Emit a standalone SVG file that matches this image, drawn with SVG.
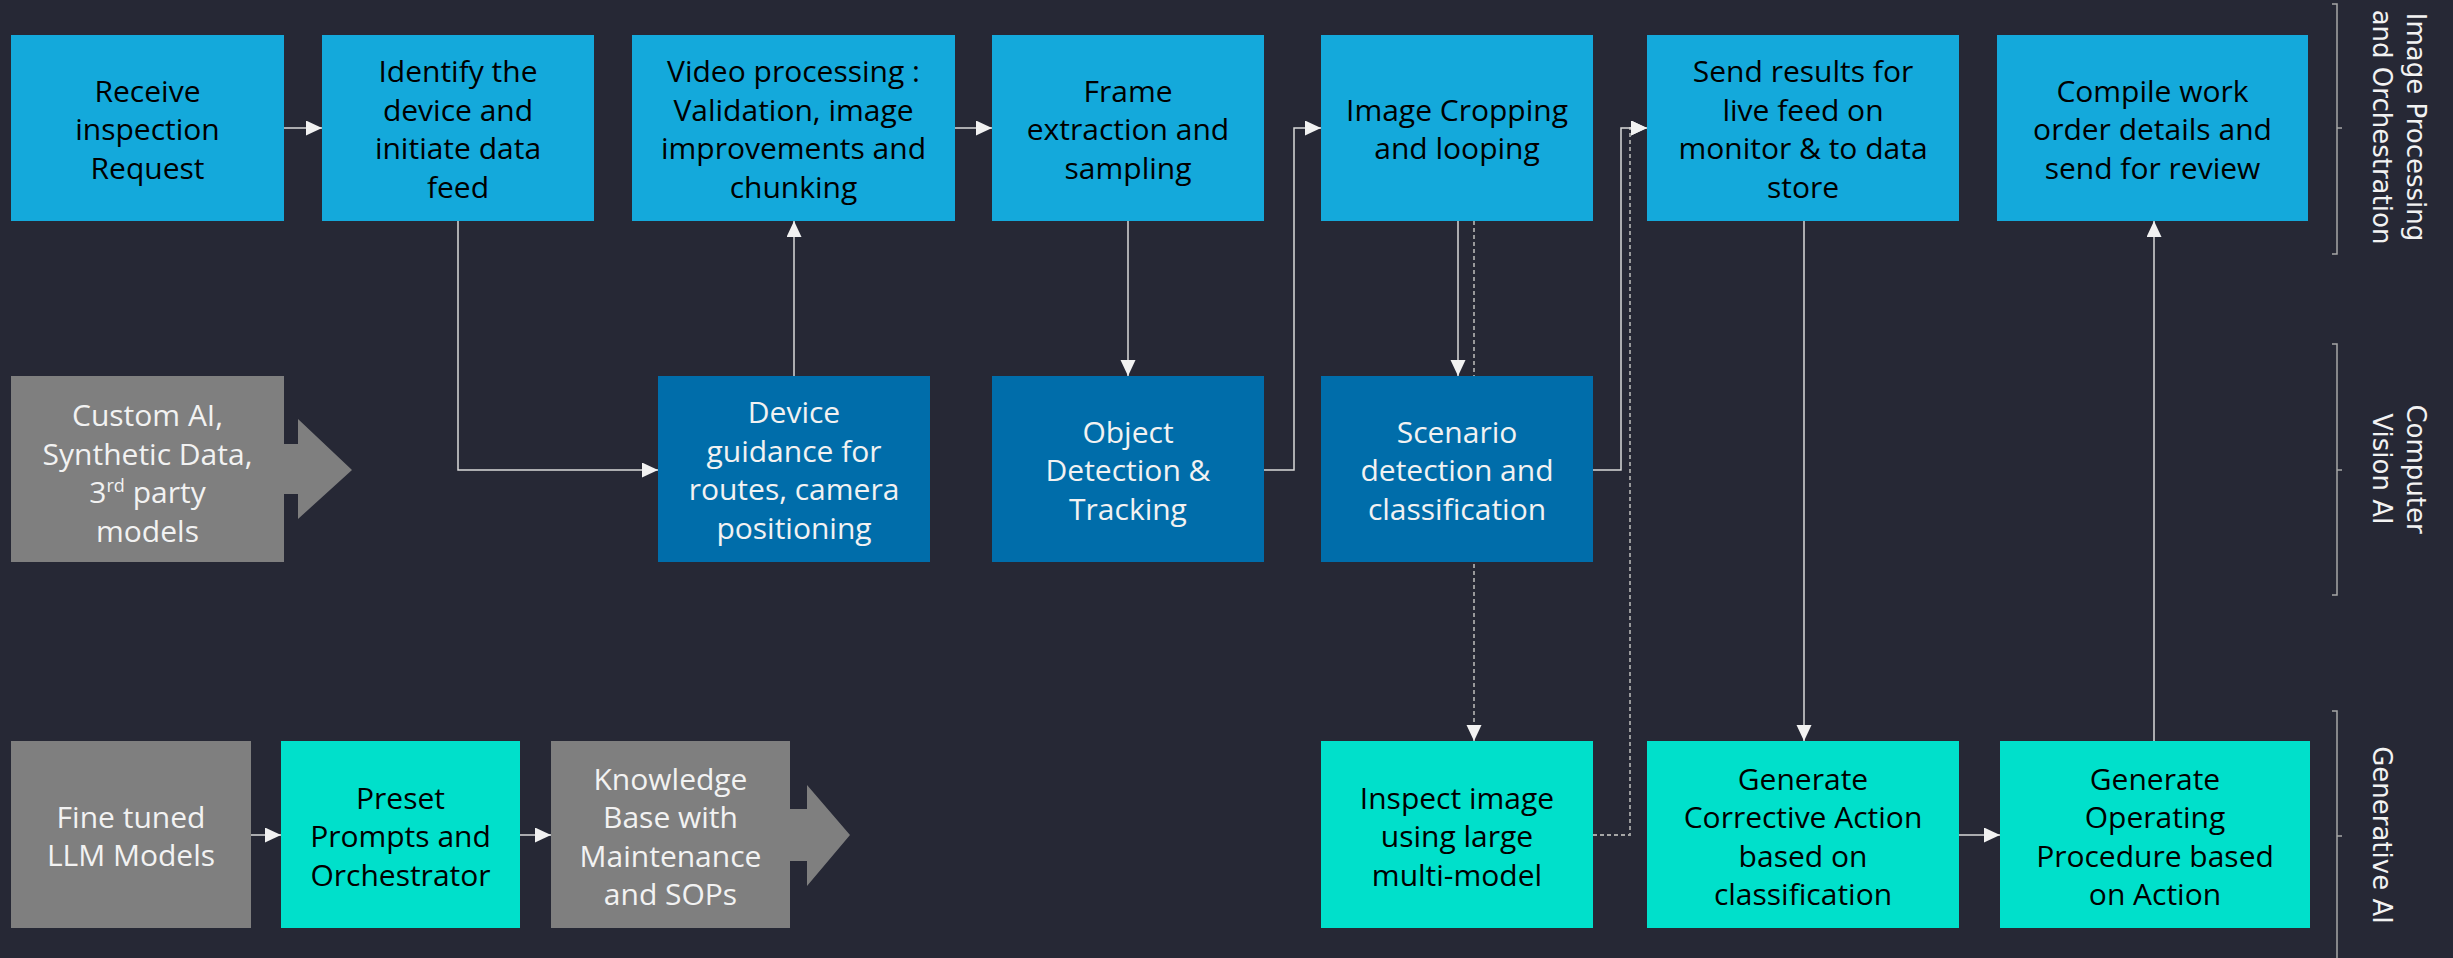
<svg xmlns="http://www.w3.org/2000/svg" width="2453" height="958" viewBox="0 0 2453 958">
<defs>
<style>
.bg{fill:#262835}
.lb{fill:#14A9DB}
.db{fill:#006DAA}
.tl{fill:#00E0CB}
.gr{fill:#7F7F7F}
.t{font-family:"Open Sans","Liberation Sans",sans-serif;font-size:30px;text-anchor:middle}
.k{fill:#000000}
.w{fill:#F2F2F2}
.side{font-family:"DejaVu Sans","Liberation Sans",sans-serif;font-size:26px;fill:#F2F2F2;text-anchor:middle}
.c{fill:none;stroke:#D9D9D9;stroke-width:1.5}
.d{fill:none;stroke:#A6A6A6;stroke-width:1.8;stroke-dasharray:4 3}
.br{fill:none;stroke:#A6A6A6;stroke-width:1.5}
</style>
<marker id="ah" markerUnits="userSpaceOnUse" markerWidth="16" markerHeight="16" refX="16" refY="7.5" orient="auto">
<path d="M0,0 L16,7.5 L0,15 Z" fill="#F2F2F2"/>
</marker>
</defs>
<rect class="bg" x="0" y="0" width="2453" height="958"/>

<g id="connectors">
<path class="c" d="M284,128 H322" marker-end="url(#ah)"/>
<path class="c" d="M955,128 H992" marker-end="url(#ah)"/>
<path class="c" d="M458,221 V470 H658" marker-end="url(#ah)"/>
<path class="c" d="M794,376 V221" marker-end="url(#ah)"/>
<path class="c" d="M1128,221 V376" marker-end="url(#ah)"/>
<path class="c" d="M1264,470 H1294 V128 H1321" marker-end="url(#ah)"/>
<path class="c" d="M1458,221 V376" marker-end="url(#ah)"/>
<path class="d" d="M1474,221 V741" marker-end="url(#ah)"/>
<path class="d" d="M1593,835 H1630 V128 H1647" marker-end="url(#ah)"/>
<path class="c" d="M1593,470 H1621 V128 H1647" marker-end="url(#ah)"/>
<path class="c" d="M1804,221 V741" marker-end="url(#ah)"/>
<path class="c" d="M1959,835 H2000" marker-end="url(#ah)"/>
<path class="c" d="M2154,741 V221" marker-end="url(#ah)"/>
<path class="c" d="M251,835 H281" marker-end="url(#ah)"/>
<path class="c" d="M520,835 H551" marker-end="url(#ah)"/>
</g>

<g id="n-receive">
<rect class="lb" x="11" y="35" width="273" height="186"/>
<text class="t k" x="147.5"><tspan x="147.5" y="101.5">Receive</tspan><tspan x="147.5" y="140">inspection</tspan><tspan x="147.5" y="178.5">Request</tspan></text>
</g>
<g id="n-identify">
<rect class="lb" x="322" y="35" width="272" height="186"/>
<text class="t k"><tspan x="458" y="82.3">Identify the</tspan><tspan x="458" y="120.8">device and</tspan><tspan x="458" y="159.3">initiate data</tspan><tspan x="458" y="197.8">feed</tspan></text>
</g>
<g id="n-video">
<rect class="lb" x="632" y="35" width="323" height="186"/>
<text class="t k"><tspan x="793.5" y="82.3">Video processing :</tspan><tspan x="793.5" y="120.8">Validation, image</tspan><tspan x="793.5" y="159.3">improvements and</tspan><tspan x="793.5" y="197.8">chunking</tspan></text>
</g>
<g id="n-frame">
<rect class="lb" x="992" y="35" width="272" height="186"/>
<text class="t k"><tspan x="1128" y="101.5">Frame</tspan><tspan x="1128" y="140">extraction and</tspan><tspan x="1128" y="178.5">sampling</tspan></text>
</g>
<g id="n-crop">
<rect class="lb" x="1321" y="35" width="272" height="186"/>
<text class="t k"><tspan x="1457" y="120.8">Image Cropping</tspan><tspan x="1457" y="159.3">and looping</tspan></text>
</g>
<g id="n-send">
<rect class="lb" x="1647" y="35" width="312" height="186"/>
<text class="t k"><tspan x="1803" y="82.3">Send results for</tspan><tspan x="1803" y="120.8">live feed on</tspan><tspan x="1803" y="159.3">monitor &amp; to data</tspan><tspan x="1803" y="197.8">store</tspan></text>
</g>
<g id="n-compile">
<rect class="lb" x="1997" y="35" width="311" height="186"/>
<text class="t k"><tspan x="2152.5" y="101.5">Compile work</tspan><tspan x="2152.5" y="140">order details and</tspan><tspan x="2152.5" y="178.5">send for review</tspan></text>
</g>

<g id="n-customai">
<rect class="gr" x="11" y="376" width="273" height="186"/>
<polygon class="gr" points="283,444 298,444 298,419 352,470 298,519 298,494 283,494"/>
<text class="t w"><tspan x="147.5" y="426">Custom AI,</tspan><tspan x="147.5" y="464.5">Synthetic Data,</tspan><tspan x="147.5" y="503">3<tspan font-size="18" dy="-11">rd</tspan><tspan dy="11"> party</tspan></tspan><tspan x="147.5" y="541.5">models</tspan></text>
</g>
<g id="n-device">
<rect class="db" x="658" y="376" width="272" height="186"/>
<text class="t w"><tspan x="794" y="423.3">Device</tspan><tspan x="794" y="461.8">guidance for</tspan><tspan x="794" y="500.3">routes, camera</tspan><tspan x="794" y="538.8">positioning</tspan></text>
</g>
<g id="n-object">
<rect class="db" x="992" y="376" width="272" height="186"/>
<text class="t w"><tspan x="1128" y="442.5">Object</tspan><tspan x="1128" y="481">Detection &amp;</tspan><tspan x="1128" y="519.5">Tracking</tspan></text>
</g>
<g id="n-scenario">
<rect class="db" x="1321" y="376" width="272" height="186"/>
<text class="t w"><tspan x="1457" y="442.5">Scenario</tspan><tspan x="1457" y="481">detection and</tspan><tspan x="1457" y="519.5">classification</tspan></text>
</g>

<g id="n-finetuned">
<rect class="gr" x="11" y="741" width="240" height="187"/>
<text class="t w"><tspan x="131" y="827.8">Fine tuned</tspan><tspan x="131" y="866.3">LLM Models</tspan></text>
</g>
<g id="n-preset">
<rect class="tl" x="281" y="741" width="239" height="187"/>
<text class="t k"><tspan x="400.5" y="808.5">Preset</tspan><tspan x="400.5" y="847">Prompts and</tspan><tspan x="400.5" y="885.5">Orchestrator</tspan></text>
</g>
<g id="n-knowledge">
<rect class="gr" x="551" y="741" width="239" height="187"/>
<polygon class="gr" points="789,809 807,809 807,785 850,835 807,886 807,861 789,861"/>
<text class="t w"><tspan x="670.5" y="789.8">Knowledge</tspan><tspan x="670.5" y="828.3">Base with</tspan><tspan x="670.5" y="866.8">Maintenance</tspan><tspan x="670.5" y="905.3">and SOPs</tspan></text>
</g>
<g id="n-inspect">
<rect class="tl" x="1321" y="741" width="272" height="187"/>
<text class="t k"><tspan x="1457" y="808.5">Inspect image</tspan><tspan x="1457" y="847">using large</tspan><tspan x="1457" y="885.5">multi-model</tspan></text>
</g>
<g id="n-corrective">
<rect class="tl" x="1647" y="741" width="312" height="187"/>
<text class="t k"><tspan x="1803" y="789.8">Generate</tspan><tspan x="1803" y="828.3">Corrective Action</tspan><tspan x="1803" y="866.8">based on</tspan><tspan x="1803" y="905.3">classification</tspan></text>
</g>
<g id="n-operating">
<rect class="tl" x="2000" y="741" width="310" height="187"/>
<text class="t k"><tspan x="2155" y="789.8">Generate</tspan><tspan x="2155" y="828.3">Operating</tspan><tspan x="2155" y="866.8">Procedure based</tspan><tspan x="2155" y="905.3">on Action</tspan></text>
</g>

<g id="lane-image-processing">
<path class="br" d="M2332,4 H2337 V254 H2332 M2337,128 H2342"/>
<text class="side" transform="translate(2407,127) rotate(90)"><tspan x="0" y="0">Image Processing</tspan><tspan x="0" y="34">and Orchestration</tspan></text>
</g>
<g id="lane-computer-vision">
<path class="br" d="M2332,344 H2337 V595 H2332 M2337,470 H2342"/>
<text class="side" transform="translate(2407,469) rotate(90)"><tspan x="0" y="0">Computer</tspan><tspan x="0" y="34">Vision AI</tspan></text>
</g>
<g id="lane-generative">
<path class="br" d="M2332,711 H2337 V958 M2337,836 H2342"/>
<text class="side" transform="translate(2373,835) rotate(90)"><tspan x="0" y="0">Generative AI</tspan></text>
</g>
</svg>
